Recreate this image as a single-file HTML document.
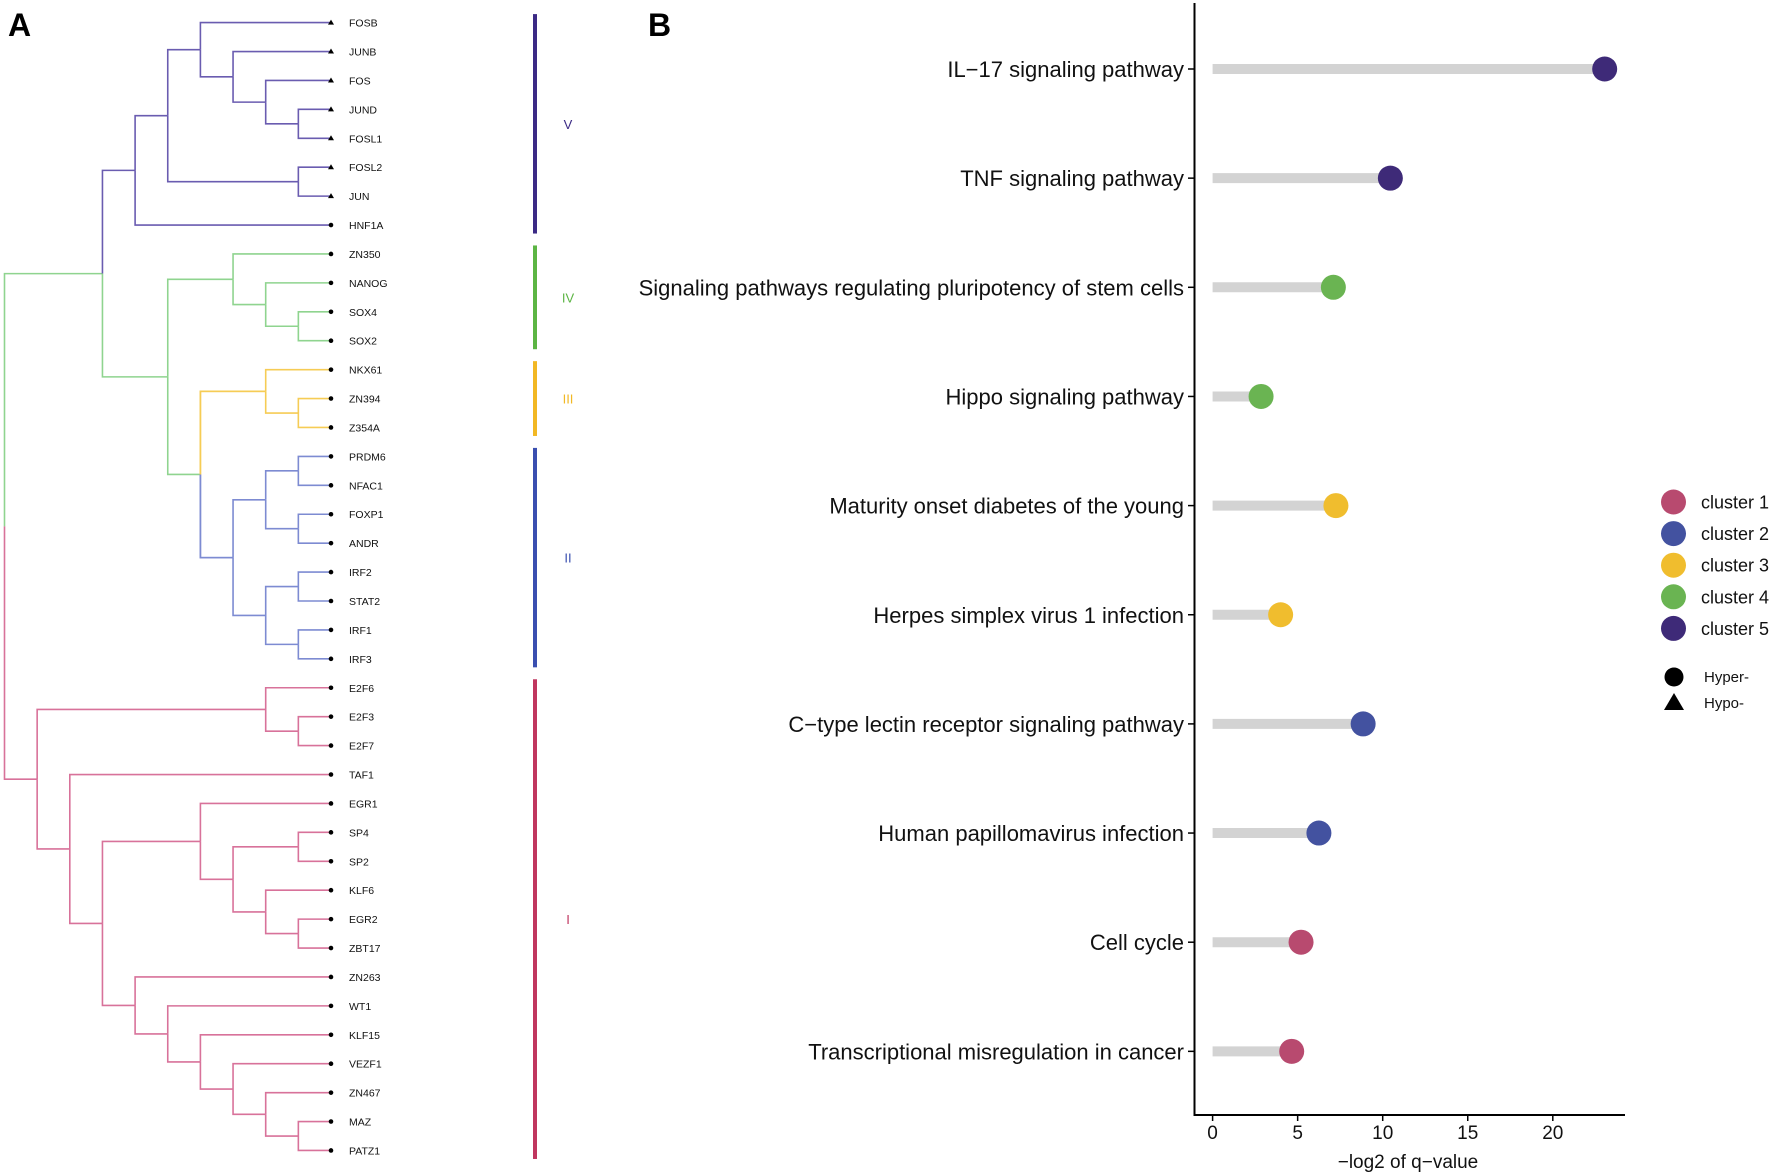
<!DOCTYPE html>
<html><head><meta charset="utf-8"><style>
html,body{margin:0;padding:0;background:#fff;}
svg{display:block;font-family:"Liberation Sans",Arial,sans-serif;}
</style></head><body>
<svg id="fig" width="1772" height="1175" viewBox="0 0 1772 1175" xmlns="http://www.w3.org/2000/svg">
<text x="8" y="36" font-size="32" font-weight="bold">A</text>
<text x="648" y="36" font-size="32" font-weight="bold">B</text>
<g id="dendro"></g>
<g id="lolli"></g>
<g id="legend"></g>
</svg>
<script>
const NS="http://www.w3.org/2000/svg";
function mk(tag,attrs,parent){const e=document.createElementNS(NS,tag);for(const k in attrs)e.setAttribute(k,attrs[k]);parent.appendChild(e);return e;}

// ---------- Panel A data ----------
const leaves=["FOSB","JUNB","FOS","JUND","FOSL1","FOSL2","JUN","HNF1A","ZN350","NANOG","SOX4","SOX2","NKX61","ZN394","Z354A","PRDM6","NFAC1","FOXP1","ANDR","IRF2","STAT2","IRF1","IRF3","E2F6","E2F3","E2F7","TAF1","EGR1","SP4","SP2","KLF6","EGR2","ZBT17","ZN263","WT1","KLF15","VEZF1","ZN467","MAZ","PATZ1"];
const hypoLeaves=["FOSB","JUNB","FOS","JUND","FOSL1","FOSL2","JUN"];
const clusterNames=["V","IV","III","II","I"];
const clusterStart=[0,8,12,15,23];
const clusterEnd=[7,11,14,22,39];
const clusterBarColors=["#3b2a85","#5cb544","#f2b824","#3a4fb0","#c0365f"];
const branchColors={V:"#6a5cb0",IV:"#8fd48f",III:"#f6cc55",II:"#7d8bd2",I:"#d8729a"};
const tree=[10,
 [7,
  [6,[5,[4,0,[3,1,[2,2,[1,3,4,"V"],"V"],"V"],"V"],[1,5,6,"V"],"V"],7,"V"],
  [5,[3,8,[2,9,[1,10,11,"IV"],"IV"],"IV"],
     [4,[2,12,[1,13,14,"III"],"III"],
        [3,[2,[1,15,16,"II"],[1,17,18,"II"],"II"],[2,[1,19,20,"II"],[1,21,22,"II"],"II"],"II"],"IV"],"IV"],"IV"],
 [9,[2,23,[1,24,25,"I"],"I"],
    [8,26,[7,[4,27,[3,[1,28,29,"I"],[2,30,[1,31,32,"I"],"I"],"I"],"I"],
               [6,33,[5,34,[4,35,[3,36,[2,37,[1,38,39,"I"],"I"],"I"],"I"],"I"],"I"],"I"],"I"],"I"],
 "I"];

const tipX=331, lvlStep=32.65, leafY0=22.6, leafStep=28.92;
const lx=l=>tipX-l*lvlStep;
const ly=i=>leafY0+i*leafStep;
const dg=document.getElementById('dendro');

function nodeInfo(n){
  if(typeof n==="number") return {x:lx(0),y:ly(n),color:null};
  return {x:lx(n[0]),y:layout(n),color:n[3]};
}
function layout(n){ if(typeof n==="number") return ly(n); return (layout(n[1])+layout(n[2]))/2; }
function leafColor(i){for(let c=0;c<5;c++) if(i>=clusterStart[c]&&i<=clusterEnd[c]) return branchColors[clusterNames[c]];}
function draw(n){
  if(typeof n==="number") return;
  const x=lx(n[0]), y=layout(n);
  [n[1],n[2]].forEach(ch=>{
    const ci=nodeInfo(ch);
    const col=typeof ch==="number"?leafColor(ch):branchColors[ch[3]];
    const p=mk('path',{d:`M${x},${y}V${ci.y}H${ci.x}`,fill:'none',stroke:col,'stroke-width':1.6},dg);
    
    
    draw(ch);
  });
}
(function(){
  const x=lx(tree[0]), y=layout(tree);
  const a=nodeInfo(tree[1]), b=nodeInfo(tree[2]);
  const p1=mk('path',{d:`M${x},${y}V${a.y}H${a.x}`,fill:'none',stroke:branchColors.IV,'stroke-width':1.6},dg);
  
  
  const p2=mk('path',{d:`M${x},${y}V${b.y}H${b.x}`,fill:'none',stroke:branchColors.I,'stroke-width':1.6},dg);
  
  
  const t=tree[1], tx=lx(t[0]), ty=layout(t);
  [[t[1],branchColors.V],[t[2],branchColors.IV]].forEach(([ch,col])=>{
    const ci=nodeInfo(ch);
    const p=mk('path',{d:`M${tx},${ty}V${ci.y}H${ci.x}`,fill:'none',stroke:col,'stroke-width':1.6},dg);
    
    
    draw(ch);
  });
  draw(tree[2]);
})();
(function(){
  const n=tree[1][2][2]; const x=lx(n[0]), y=layout(n);
  [[n[1],branchColors.III],[n[2],branchColors.II]].forEach(([ch,col])=>{
    const ci=nodeInfo(ch);
    const p=mk('path',{d:`M${x},${y}V${ci.y}H${ci.x}`,fill:'none',stroke:col,'stroke-width':1.6},dg);
    
    
  });
})();
leaves.forEach((name,i)=>{
  const y=ly(i), x=lx(0);
  let m;
  if(hypoLeaves.includes(name)) m=mk('path',{d:`M${x},${y-3}L${x+3},${y+2}L${x-3},${y+2}Z`,fill:'#000'},dg);
  else m=mk('circle',{cx:x,cy:y,r:2.3,fill:'#000'},dg);
  
  
  const t=mk('text',{x:349,y:y+4,'font-size':10.5,fill:'#111'},dg);
  t.textContent=name;
  
  
});
clusterNames.forEach((c,k)=>{
  const y1=ly(clusterStart[k])-8.5, y2=ly(clusterEnd[k])+8.5;
  const r=mk('rect',{x:533,y:y1,width:4,height:y2-y1,fill:clusterBarColors[k]},dg);
  
  
  const t=mk('text',{x:568,y:(y1+y2)/2+5,'font-size':13,'text-anchor':'middle',fill:clusterBarColors[k]},dg);
  t.textContent=c;
  
  
});

// ---------- Panel B data ----------
const pathways=["IL\u221217 signaling pathway","TNF signaling pathway","Signaling pathways regulating pluripotency of stem cells","Hippo signaling pathway","Maturity onset diabetes of the young","Herpes simplex virus 1 infection","C\u2212type lectin receptor signaling pathway","Human papillomavirus infection","Cell cycle","Transcriptional misregulation in cancer"];
const qvalues=[23.05,10.45,7.1,2.85,7.25,4.0,8.85,6.25,5.2,4.65];
const clusters=[5,5,4,4,3,3,2,2,1,1];
const xTicks=[0,5,10,15,20];
const clusterColors={1:"#b84a6f",2:"#4352a0",3:"#f0bd2e",4:"#6ab452",5:"#3e2a78"};

const lg=document.getElementById('lolli');
const xScale=v=>1212.6+v*17.01;
const yScale=i=>69+i*109.15;
const axL=mk('line',{x1:1194.5,y1:3,x2:1194.5,y2:1116,stroke:'#000','stroke-width':2},lg);

const axB=mk('line',{x1:1193.5,y1:1115,x2:1625,y2:1115,stroke:'#000','stroke-width':2},lg);

xTicks.forEach(v=>{
  const tk=mk('line',{x1:xScale(v),y1:1115,x2:xScale(v),y2:1121,stroke:'#000','stroke-width':1.5},lg);
  
  const t=mk('text',{x:xScale(v),y:1139,'font-size':19,'text-anchor':'middle',fill:'#111'},lg);
  t.textContent=v;
  
});
const xt=mk('text',{x:1408,y:1168,'font-size':19,'text-anchor':'middle',fill:'#111'},lg);
xt.textContent="\u2212log2 of q\u2212value";

pathways.forEach((p,i)=>{
  const y=yScale(i);
  const tk=mk('line',{x1:1188,y1:y,x2:1194,y2:y,stroke:'#000','stroke-width':1.5},lg);
  
  const t=mk('text',{x:1184,y:y+8,'font-size':22,'text-anchor':'end',fill:'#111'},lg);
  t.textContent=p;
  
  const seg=mk('line',{x1:xScale(0),y1:y,x2:xScale(qvalues[i]),y2:y,stroke:'#d3d3d3','stroke-width':10},lg);
  
  const c=mk('circle',{cx:xScale(qvalues[i]),cy:y,r:12.5,fill:clusterColors[clusters[i]]},lg);
  
});

// ---------- Legend ----------
const lgd=document.getElementById('legend');
[1,2,3,4,5].forEach((k,i)=>{
  const y=502+i*31.6;
  const c=mk('circle',{cx:1673.5,cy:y,r:12.5,fill:clusterColors[k]},lgd);
  
  const t=mk('text',{x:1701,y:y+6.5,'font-size':18,fill:'#111'},lgd);
  t.textContent="cluster "+k;
  
});
const hc=mk('circle',{cx:1674,cy:677,r:9.5,fill:'#000'},lgd);

const ht=mk('text',{x:1704,y:682,'font-size':15,fill:'#111'},lgd);ht.textContent="Hyper-";

const tr=mk('path',{d:'M1674,693L1684,710L1664,710Z',fill:'#000'},lgd);

const tt=mk('text',{x:1704,y:708,'font-size':15,fill:'#111'},lgd);tt.textContent="Hypo-";

</script>
</body></html>
